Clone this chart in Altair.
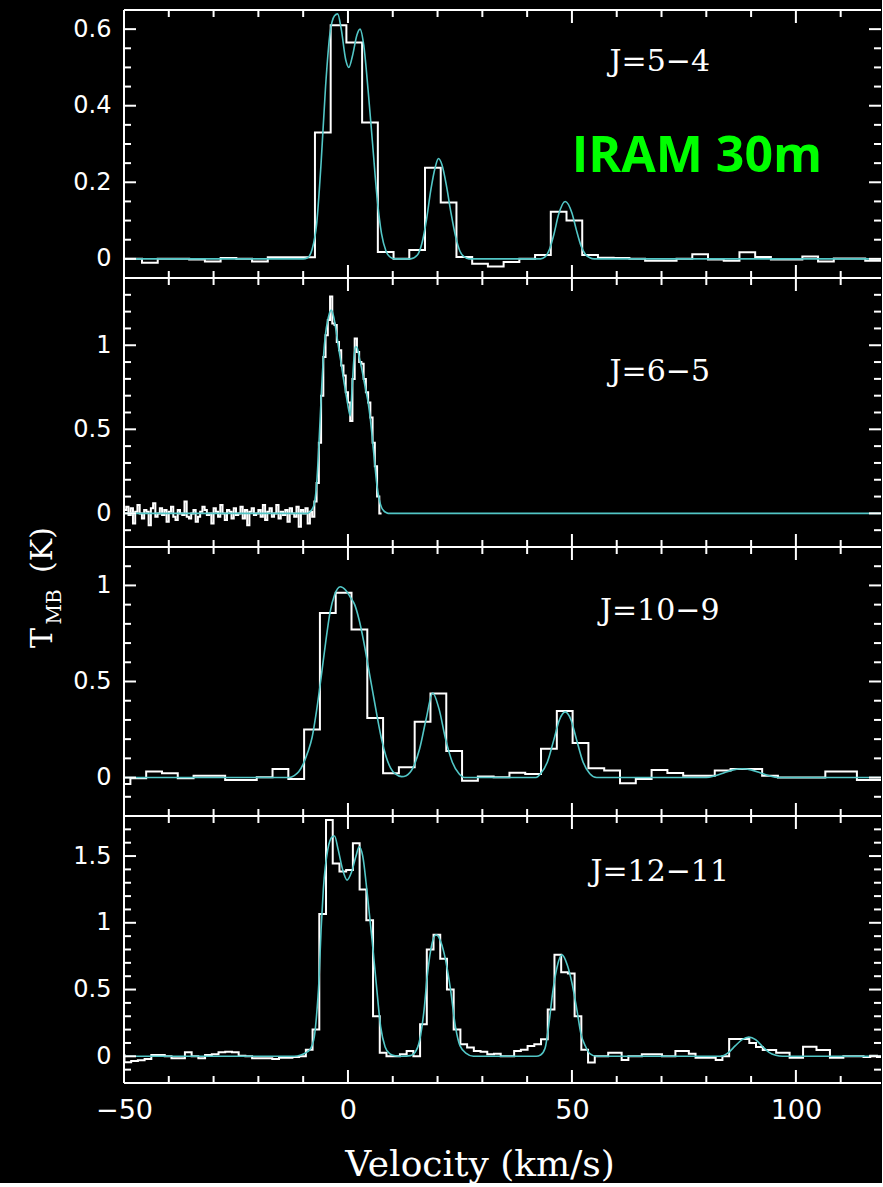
import altair as alt
import pandas as pd

# ---------------------------------------------------------------- layout
PLOT_W = 757
PANEL_H = [268, 269, 269, 267]
VEL_DOMAIN = [-50, 119]
T_DOMAINS = [[-0.05, 0.65], [-0.2, 1.4], [-0.2, 1.2], [-0.2, 1.8]]

SPEC_COLOR = "#ffffff"
FIT_COLOR = "#52c6c6"
FRAME_COLOR = "#ffffff"
SERIF = "DejaVu Serif"
SANS = "DejaVu Sans"

# velocity axis ticks (km/s)
VEL_MAJOR = [-50, 0, 50, 100]
VEL_MINOR = [-40, -30, -20, -10, 10, 20, 30, 40, 60, 70, 80, 90, 110]

# temperature axis ticks for each panel (K)
T_MAJOR = [[0, 0.2, 0.4, 0.6], [0, 0.5, 1], [0, 0.5, 1], [0, 0.5, 1, 1.5]]
T_MINOR = [
    [0.05, 0.1, 0.15, 0.25, 0.3, 0.35, 0.45, 0.5, 0.55],
    [-0.1, 0.1, 0.2, 0.3, 0.4, 0.6, 0.7, 0.8, 0.9, 1.1, 1.2, 1.3],
    [-0.1, 0.1, 0.2, 0.3, 0.4, 0.6, 0.7, 0.8, 0.9, 1.1],
    [-0.1, 0.1, 0.2, 0.3, 0.4, 0.6, 0.7, 0.8, 0.9, 1.1, 1.2, 1.3, 1.4, 1.6, 1.7],
]

TRANSITIONS = ["J=5\u22124", "J=6\u22125", "J=10\u22129", "J=12\u221211"]
LABEL_VEL = 69.6
LABEL_T = [0.49, 0.79, 0.82, 1.31]

# ---------------------------------------------------------------- spectra
# J=5-4: channel temperatures, first channel starts at J54_START, width J54_DV
J54_START, J54_DV = -53.0, 3.51
J54_T = [0.0, 0.0, -0.01, 0.0, 0.0, -0.002, -0.007, 0.002, 0.0, -0.007,
         0.004, 0.004, 0.004, 0.33, 0.61, 0.565, 0.356, 0.018, 0.0, 0.023,
         0.238, 0.147, 0.005, -0.013, -0.02, -0.008, 0.0, 0.01, 0.123, 0.10,
         0.01, 0.003, 0.002, 0.0, -0.005, -0.005, 0.0, 0.012, -0.002, -0.005,
         0.017, 0.005, -0.002, -0.002, 0.006, -0.007, 0.001, 0.001, -0.005]
J54_FIT_V = [-50, -10, -9, -8, -7, -6, -5, -4, -3, -2.3,
             -1.5, -0.5, 0.2, 1, 2, 2.7, 3.5, 4.5, 5.5, 6.5,
             7.5, 8.5, 9.5, 10.5, 14, 15.5, 16.5, 17.5, 18.5, 19.5,
             20.2, 21, 22, 23, 24, 25, 26, 27, 43, 44,
             45, 46, 47, 48.5, 50, 51, 52, 53, 54, 55, 119]
J54_FIT_T = [0, 0, 0.003, 0.025, 0.09, 0.25, 0.45, 0.59, 0.635, 0.64,
             0.6, 0.52, 0.5, 0.53, 0.585, 0.6, 0.56, 0.44, 0.3, 0.16,
             0.065, 0.02, 0.004, 0, 0, 0.01, 0.04, 0.1, 0.18, 0.24,
             0.262, 0.245, 0.19, 0.12, 0.06, 0.02, 0.005, 0, 0, 0.005,
             0.025, 0.065, 0.115, 0.15, 0.12, 0.075, 0.035, 0.012, 0.003, 0, 0]

# J=6-5: high resolution spectrum, 0.5 km/s channels from -50 km/s
J65_START, J65_DV = -50.0, 0.5
J65_T = [0.02, 0.04, -0.01, 0.03, -0.06, 0.01, 0.05, 0.00, -0.03, 0.02,
         0.01, -0.07, 0.03, 0.06, -0.02, 0.00, 0.03, -0.01, 0.02, -0.05,
         0.01, 0.04, -0.02, -0.04, 0.02, 0.00, -0.01, 0.07, -0.02, -0.03,
         0.00, 0.02, -0.05, -0.02, 0.01, 0.04, 0.02, -0.01, 0.00, -0.06,
         0.03, 0.01, -0.02, 0.05, 0.00, -0.04, 0.02, 0.01, -0.03, 0.03,
         -0.01, 0.00, 0.04, -0.03, 0.02, -0.07, 0.01, 0.03, -0.01, 0.00,
         0.02, -0.02, 0.05, -0.04, 0.01, 0.03, -0.02, 0.00, 0.05, -0.03,
         0.01, -0.01, 0.02, -0.05, 0.03, 0.00, -0.02, 0.04, -0.08, 0.02,
         0.00, 0.03, -0.06, 0.01, -0.02,
         0.07, 0.18, 0.42, 0.70, 0.93, 1.06, 1.15, 1.29, 1.13, 1.12,
         1.02, 0.97, 0.88, 0.82, 0.72, 0.66, 0.55, 0.80, 1.04, 0.96,
         0.90, 0.89, 0.80, 0.72, 0.66, 0.57, 0.42, 0.28, 0.10, 0.0]
J65_FIT_V = [-50, -9, -8.5, -8, -7.5, -7, -6.5, -6, -5.5, -5,
             -4.5, -4, -3.7, -3.2, -2.5, -2, -1.5, -1, -0.5, 0,
             0.5, 1, 1.6, 2, 2.5, 3, 3.5, 4, 4.5, 5,
             5.5, 6, 6.5, 7, 7.5, 8, 8.5, 9, 119]
J65_FIT_T = [0, 0, 0.008, 0.025, 0.06, 0.17, 0.4, 0.68, 0.92, 1.07,
             1.15, 1.2, 1.21, 1.17, 1.06, 0.97, 0.89, 0.8, 0.72, 0.64,
             0.58, 0.78, 0.99, 0.99, 0.93, 0.87, 0.8, 0.73, 0.66, 0.56,
             0.43, 0.29, 0.16, 0.08, 0.035, 0.015, 0.005, 0, 0]

# J=10-9
J109_START, J109_DV = -52.1, 3.526
J109_T = [-0.033, -0.003, 0.031, 0.023, -0.003, 0.01, 0.01, -0.012, -0.012, 0.002,
          0.045, -0.007, 0.25, 0.857, 0.962, 0.77, 0.31, 0.022, 0.054, 0.29,
          0.438, 0.138, -0.016, 0.005, 0.002, 0.025, 0.019, 0.15, 0.346, 0.18,
          0.049, 0.037, -0.03, -0.007, 0.04, 0.024, 0.01, 0.01, 0.037, 0.045,
          0.045, 0.01, 0.0, 0.0, 0.0, 0.031, 0.031, -0.012, -0.012]
J109_FIT_V = [-50, -13, -12, -11, -10, -9, -8, -7, -6, -5,
              -4, -3, -1.7, -0.5, 0.5, 1.5, 2.5, 3.5, 4.5, 5.5,
              6.5, 7.5, 8.5, 9.5, 10.5, 12, 13, 14.5, 16, 17.5,
              18.9, 20.3, 21.8, 23.3, 24.8, 26, 42, 43, 44.5, 46,
              47.2, 48.5, 49.8, 51, 52.5, 54, 55.5, 80, 82, 84,
              86, 88, 90, 92, 94, 96, 119]
J109_FIT_T = [0, 0, 0.01, 0.03, 0.07, 0.13, 0.21, 0.35, 0.52, 0.7,
              0.86, 0.95, 0.993, 0.975, 0.94, 0.9, 0.82, 0.71, 0.58, 0.45,
              0.32, 0.2, 0.11, 0.05, 0.02, 0.005, 0.01, 0.05, 0.15, 0.31,
              0.44, 0.36, 0.2, 0.08, 0.02, 0, 0, 0.02, 0.08, 0.2,
              0.3, 0.342, 0.3, 0.2, 0.08, 0.02, 0, 0, 0.01, 0.025,
              0.04, 0.046, 0.04, 0.025, 0.01, 0, 0]

# J=12-11
J1211_START, J1211_DV = -51.4, 1.5
J1211_T = [0.01, -0.045, -0.035, -0.03, -0.02, 0.01, 0.01, 0.0, -0.015, -0.015,
           0.03, 0.0, -0.015, 0.01, 0.015, 0.03, 0.035, 0.03, 0.005, 0.0,
           -0.015, -0.015, -0.015, -0.02, -0.01, -0.01, -0.005, 0.0, 0.05, 0.2,
           1.065, 1.77, 1.445, 1.385, 1.395, 1.595, 1.25, 1.02, 0.30, 0.027,
           0.0, 0.0, 0.015, 0.04, 0.0, 0.24, 0.80, 0.91, 0.73, 0.50,
           0.20, 0.09, 0.065, 0.04, 0.035, 0.015, 0.02, 0.0, 0.0, 0.04,
           0.05, 0.077, 0.09, 0.127, 0.35, 0.76, 0.63, 0.62, 0.30, 0.05,
           -0.047, 0.0, 0.0, 0.027, 0.027, -0.027, 0.0, 0.0, 0.015, 0.015,
           0.015, 0.0, 0.0, 0.04, 0.04, 0.02, -0.01, -0.01, -0.01, -0.027,
           0.0, 0.13, 0.13, 0.13, 0.1, 0.07, 0.047, 0.047, 0.027, 0.027,
           -0.01, -0.01, 0.072, 0.072, 0.047, 0.047, -0.01, -0.01, 0.0, 0.0,
           0.0, -0.005, 0.005, -0.005, 0.0]
J1211_FIT_V = [-50, -12, -10.5, -9.5, -8.5, -7.5, -7.0, -6.5, -6.0, -5.5,
               -4.5, -3.5, -3.0, -2.2, -1.2, -0.2, 0.8, 1.8, 2.5, 3.3,
               4.3, 5.3, 6.3, 7.3, 8.3, 9.3, 10.5, 12, 14, 15,
               16, 17, 17.7, 18.8, 19.7, 20.7, 21.8, 22.9, 24, 25,
               26.5, 28, 42, 43, 44, 45, 45.6, 46.5, 47.8, 49,
               50, 51.1, 52, 53, 54, 55.5, 83, 85, 86.5, 88,
               89.5, 91, 92.5, 94, 95.5, 97, 119]
J1211_FIT_T = [0, 0, 0.01, 0.025, 0.05, 0.15, 0.31, 0.55, 0.95, 1.25,
               1.55, 1.645, 1.65, 1.55, 1.4, 1.32, 1.38, 1.5, 1.57, 1.5,
               1.22, 0.9, 0.55, 0.22, 0.07, 0.02, 0.004, 0, 0.005, 0.03,
               0.12, 0.35, 0.6, 0.85, 0.91, 0.86, 0.72, 0.5, 0.22, 0.08,
               0.02, 0, 0, 0.01, 0.06, 0.28, 0.45, 0.64, 0.76, 0.68,
               0.55, 0.35, 0.17, 0.077, 0.02, 0, 0, 0.03, 0.08, 0.125,
               0.144, 0.125, 0.075, 0.03, 0.008, 0, 0]


def channels(start, width, temps):
    """Step-histogram table: channel left edges plus the closing edge."""
    vel = [start + i * width for i in range(len(temps) + 1)]
    return pd.DataFrame({"vel": vel, "tmb": list(temps) + [temps[-1]]})


def curve(vels, temps):
    assert len(vels) == len(temps)
    return pd.DataFrame({"vel": vels, "tmb": temps})


def panel(i, spec, fit, bottom=False, notes=None):
    h = PANEL_H[i]
    xs = alt.Scale(domain=VEL_DOMAIN, nice=False, zero=False)
    ys = alt.Scale(domain=T_DOMAINS[i], nice=False, zero=False)

    y_axis = alt.Axis(values=T_MAJOR[i], format="~g", ticks=False, tickSize=0,
                      domain=False, grid=False, labelPadding=13, labelFontSize=24,
                      labelFont=SANS, labelColor="white", labelFlush=False,
                      labelOverlap=False, title=None)
    if bottom:
        x_axis = alt.Axis(values=VEL_MAJOR, format="d", ticks=False, tickSize=0,
                          domain=False, grid=False, labelPadding=14, labelFontSize=27,
                          labelFont=SANS, labelColor="white", labelFlush=False,
                          labelOverlap=False, title=None)
    else:
        x_axis = None

    # every layer carries the same axis definition so the merged axis keeps it
    def X():
        return alt.X("vel:Q", scale=xs, axis=x_axis, title=None)

    def Y():
        return alt.Y("tmb:Q", scale=ys, axis=y_axis, title=None)

    layers = [
        alt.Chart(spec).mark_line(interpolate="step-after", color=SPEC_COLOR,
                                  strokeWidth=2, clip=True)
        .encode(x=X(), y=Y()),
        alt.Chart(fit).mark_line(interpolate="monotone", color=FIT_COLOR,
                                 strokeWidth=1.6, clip=True)
        .encode(x=X(), y=Y()),
    ]

    # inward ticks on all four sides
    for vals, length in ((VEL_MAJOR, 13), (VEL_MINOR, 7)):
        base = alt.Chart(pd.DataFrame({"vel": vals})).mark_rule(color=FRAME_COLOR, strokeWidth=2)
        layers.append(base.encode(x=X(), y=alt.value(0), y2=alt.value(length)))
        layers.append(base.encode(x=X(), y=alt.value(h - length), y2=alt.value(h)))
    for vals, length in ((T_MAJOR[i], 12), (T_MINOR[i], 7)):
        base = alt.Chart(pd.DataFrame({"tmb": vals})).mark_rule(color=FRAME_COLOR, strokeWidth=2)
        layers.append(base.encode(y=Y(), x=alt.value(0), x2=alt.value(length)))
        layers.append(base.encode(y=Y(), x=alt.value(PLOT_W - length), x2=alt.value(PLOT_W)))

    # frame: top, bottom and left edges
    frame = alt.Chart(pd.DataFrame({"edge": ["frame"]})).mark_rule(color=FRAME_COLOR, strokeWidth=2)
    layers += [
        frame.encode(x=alt.value(0), x2=alt.value(PLOT_W), y=alt.value(0)),
        frame.encode(x=alt.value(0), x2=alt.value(PLOT_W), y=alt.value(h)),
        frame.encode(x=alt.value(0), y=alt.value(0), y2=alt.value(h)),
    ]

    # transition name
    layers.append(
        alt.Chart(pd.DataFrame({"vel": [LABEL_VEL], "tmb": [LABEL_T[i]], "name": [TRANSITIONS[i]]}))
        .mark_text(font=SERIF, fontSize=30, color="white", align="center", baseline="alphabetic")
        .encode(x=X(), y=Y(), text="name:N")
    )
    if notes is not None:
        layers += notes(X, Y)
    return alt.layer(*layers).properties(width=PLOT_W, height=h)


def telescope_note(X, Y):
    return [
        alt.Chart(pd.DataFrame({"vel": [77.9], "tmb": [0.227], "name": ["IRAM 30m"]}))
        .mark_text(font="Open Sans", fontWeight="bold", fontSize=50, color="#00ff00",
                   align="center", baseline="alphabetic")
        .encode(x=X(), y=Y(), text="name:N")
    ]


def temperature_title(X, Y):
    one = pd.DataFrame({"k": [0]})
    return [
        alt.Chart(one).mark_text(text="T", font=SERIF, fontSize=30, color="white", angle=270,
                                 align="center", baseline="alphabetic")
        .encode(x=alt.value(-72), y=alt.value(91)),
        alt.Chart(one).mark_text(text="MB", font=SERIF, fontSize=20, color="white", angle=270,
                                 align="center", baseline="alphabetic")
        .encode(x=alt.value(-63), y=alt.value(60)),
        alt.Chart(one).mark_text(text="(K)", font=SERIF, fontSize=30, color="white", angle=270,
                                 align="center", baseline="alphabetic")
        .encode(x=alt.value(-72), y=alt.value(3)),
    ]


def velocity_title(X, Y):
    one = pd.DataFrame({"k": [0]})
    return [
        alt.Chart(one).mark_text(text="Velocity (km/s)", font=SERIF, fontSize=36, color="white",
                                 align="center", baseline="alphabetic")
        .encode(x=alt.value(356), y=alt.value(360))
    ]


panels = [
    panel(0, channels(J54_START, J54_DV, J54_T), curve(J54_FIT_V, J54_FIT_T), notes=telescope_note),
    panel(1, channels(J65_START, J65_DV, J65_T), curve(J65_FIT_V, J65_FIT_T)),
    panel(2, channels(J109_START, J109_DV, J109_T), curve(J109_FIT_V, J109_FIT_T), notes=temperature_title),
    panel(3, channels(J1211_START, J1211_DV, J1211_T), curve(J1211_FIT_V, J1211_FIT_T),
          bottom=True, notes=velocity_title),
]

chart = alt.vconcat(*panels, spacing=0, bounds="flush").properties(
    background="black",
    padding={"left": 28, "top": 9, "right": 0, "bottom": 0},
).configure_view(stroke=None)

chart.save("out.html", embed_options={"renderer": "svg", "actions": False})
